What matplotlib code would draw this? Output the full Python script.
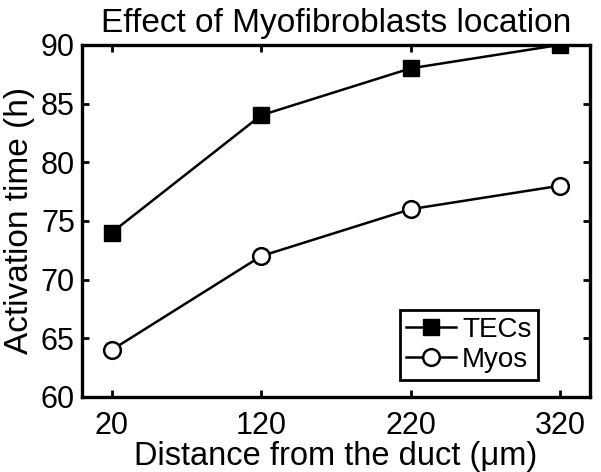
import matplotlib
matplotlib.use('Agg')
import matplotlib.pyplot as plt

# distance from duct (um) and activation times (h)
distance = [20, 120, 220, 320]
tecs = [74, 84, 88, 90]
myos = [64, 72, 76, 78]

plt.rcParams['font.family'] = ['Liberation Sans', 'DejaVu Sans']

fig = plt.figure(figsize=(6.01, 4.72), dpi=100)
ax = fig.add_axes([0.136, 0.159, 0.846, 0.746])

ax.plot(distance, tecs, '-', color='black', lw=1.8, marker='s',
        ms=11, mfc='black', mec='black', label='TECs')
ax.plot(distance, myos, '-', color='black', lw=1.8, marker='o',
        ms=12, mfc='white', mec='black', mew=1.8, label='Myos')

ax.set_xlim(0, 340)
ax.set_ylim(60, 90)
ax.set_xticks(distance)
ax.set_yticks(range(60, 91, 5))
ax.tick_params(direction='in', top=True, right=True, length=5, width=2,
               labelsize=22)
ax.tick_params(axis='x', pad=10)
ax.tick_params(axis='y', pad=5)
for s in ax.spines.values():
    s.set_linewidth(2.4)

ax.set_title('Effect of Myofibroblasts location', fontsize=24, pad=9)
ax.set_xlabel('Distance from the duct (μm)', fontsize=23.5, labelpad=0)
ax.set_ylabel('Activation time (h)', fontsize=24, labelpad=4)

leg = ax.legend(loc='lower right', fontsize=20, fancybox=False,
                edgecolor='black', framealpha=1, borderpad=0.25,
                handlelength=1.8, handletextpad=0.2, labelspacing=0.15,
                borderaxespad=0, bbox_to_anchor=(0.898, 0.048))
leg.get_frame().set_linewidth(2)

fig.savefig('out.png', dpi=100)
